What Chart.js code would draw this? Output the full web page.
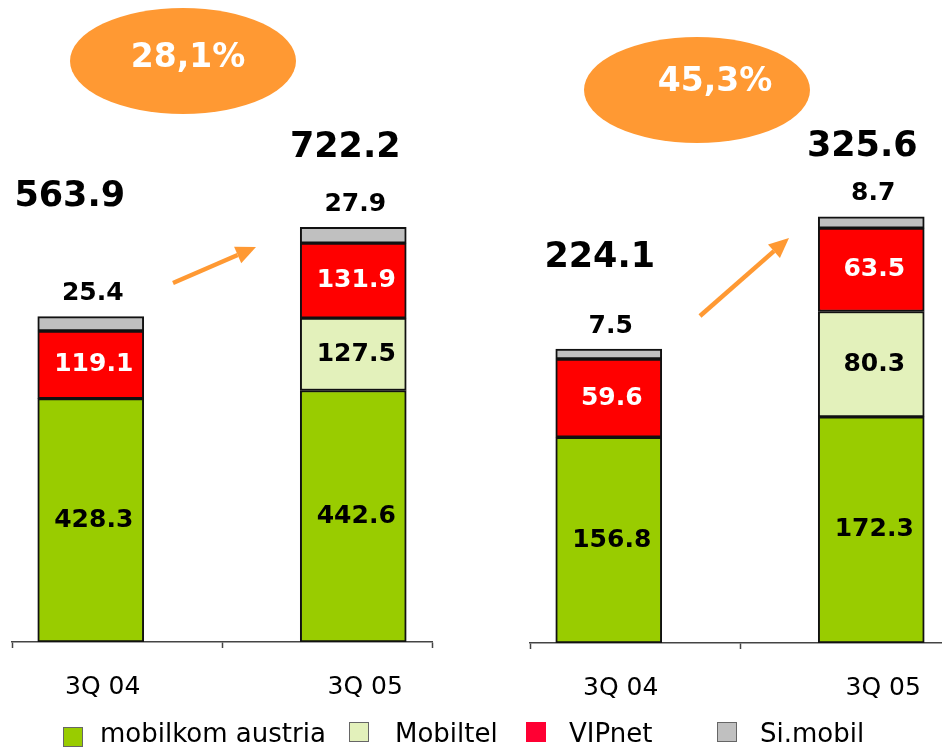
<!DOCTYPE html>
<html>
<head>
<meta charset="utf-8">
<script src="https://cdn.jsdelivr.net/npm/chart.js@4.4.1/dist/chart.umd.min.js"></script>
<style>
  html, body { margin: 0; padding: 0; background: #fff; }
  body { width: 942px; height: 750px; overflow: hidden; position: relative; font-family: "DejaVu Sans", Verdana, sans-serif; }
  canvas { position: absolute; top: 0; }
  #leftChart { left: 0; }
  #rightChart { left: 470px; }
  .legBox { position: absolute; width: 20px; height: 20px; box-sizing: border-box; }
  .legText { position: absolute; font-size: 26px; line-height: 30px; color: #000; white-space: nowrap; }
</style>
</head>
<body>
<canvas id="leftChart" width="470" height="750"></canvas>
<canvas id="rightChart" width="510" height="750"></canvas>
<div id="legend"></div>

<script>
// ---- data ----
const categories = ["3Q 04", "3Q 05"];
const seriesNames = ["mobilkom austria", "Mobiltel", "VIPnet", "Si.mobil"];
const seriesColors = ["#99CC00", "#E3F1BB", "#FF0000", "#C0C0C0"];
const legendColors = ["#99CC00", "#E3F1BB", "#FF0033", "#C0C0C0"];

// left panel
const leftMobilkom = [428.3, 442.6];
const leftMobiltel = [null, 127.5];
const leftVipnet = [119.1, 131.9];
const leftSimobil = [25.4, 27.9];
const leftTotals = ["563.9", "722.2"];
const leftGrowth = "28,1%";

// right panel
const rightMobilkom = [156.8, 172.3];
const rightMobiltel = [null, 80.3];
const rightVipnet = [59.6, 63.5];
const rightSimobil = [7.5, 8.7];
const rightTotals = ["224.1", "325.6"];
const rightGrowth = "45,3%";

// ---- layout ----
const legendBoxX = [63, 349, 526, 717];
const legendBoxY = [727, 722, 722, 722];
const legendTextX = [100, 395, 569, 760];

const BOLD = "bold 25px 'DejaVu Sans', Verdana, sans-serif";
const BIG = "bold 35px 'DejaVu Sans', Verdana, sans-serif";
const ORANGE = "#FF9933";

// labels in segments + totals + growth ellipse + arrow
const decoPlugin = {
  id: "deco",
  afterDatasetsDraw(chart, args, opts) {
    const ctx = chart.ctx;
    ctx.save();
    ctx.textAlign = "center";
    ctx.textBaseline = "middle";

    const tops = [];
    chart.data.datasets.forEach((ds, di) => {
      const meta = chart.getDatasetMeta(di);
      meta.data.forEach((el, i) => {
        const v = ds.data[i].y;
        if (v == null) return;
        tops[i] = Math.min(tops[i] ?? Infinity, el.y);
        ctx.font = BOLD;
        if (di === 3) {
          ctx.fillStyle = "#000";
          ctx.fillText(v.toFixed(1), el.x + 2, el.y - 23);
        } else {
          ctx.fillStyle = di === 2 ? "#fff" : "#000";
          ctx.fillText(v.toFixed(1), el.x + 3, (el.y + el.base) / 2);
        }
      });
    });

    // totals above each bar
    const m0 = chart.getDatasetMeta(0);
    ctx.font = BIG;
    ctx.fillStyle = "#000";
    opts.totals.forEach((t, i) => {
      const o = opts.totalOffsets[i];
      ctx.fillText(t, m0.data[i].x + o[0], tops[i] + o[1]);
    });

    // growth ellipse
    const e = opts.ellipse;
    ctx.fillStyle = ORANGE;
    ctx.beginPath();
    ctx.ellipse(e.cx, e.cy, e.rx, e.ry, 0, 0, Math.PI * 2);
    ctx.fill();
    ctx.fillStyle = "#fff";
    ctx.font = "bold 33px 'DejaVu Sans', Verdana, sans-serif";
    ctx.fillText(opts.growth, e.tx, e.ty);

    // arrow
    const a = opts.arrow;
    const ang = Math.atan2(a.y2 - a.y1, a.x2 - a.x1);
    const hl = 20, hw = 9;
    const bx = a.x2 - hl * Math.cos(ang), by = a.y2 - hl * Math.sin(ang);
    ctx.strokeStyle = ORANGE;
    ctx.lineWidth = 4.5;
    ctx.beginPath();
    ctx.moveTo(a.x1, a.y1);
    ctx.lineTo(bx, by);
    ctx.stroke();
    ctx.fillStyle = ORANGE;
    ctx.beginPath();
    ctx.moveTo(a.x2, a.y2);
    ctx.lineTo(bx + hw * Math.sin(ang), by - hw * Math.cos(ang));
    ctx.lineTo(bx - hw * Math.sin(ang), by + hw * Math.cos(ang));
    ctx.closePath();
    ctx.fill();

    ctx.restore();
  }
};

function makePanel(id, series, yMax, axisH, padL, padR, deco) {
  const datasets = series.map((vals, s) => ({
    label: seriesNames[s],
    data: vals.map((v, i) => ({ x: i, y: v })),
    backgroundColor: seriesColors[s],
    borderColor: "#111",
    borderWidth: 2,
    borderSkipped: false,
    barThickness: 106
  }));

  return new Chart(document.getElementById(id), {
    type: "bar",
    data: { datasets },
    options: {
      responsive: false,
      animation: false,
      layout: { padding: { left: padL, right: padR, top: 0, bottom: 0 } },
      plugins: {
        legend: { display: false },
        tooltip: { enabled: false },
        deco
      },
      scales: {
        x: {
          type: "linear",
          stacked: true,
          offset: false,
          min: -0.3,
          max: 1.3,
          afterBuildTicks: (scale) => {
            scale.ticks = [-0.3, 0, 0.5, 1, 1.3].map(v => ({ value: v }));
          },
          afterFit: (scale) => {
            scale.height = axisH;
            scale.paddingLeft = 0;
            scale.paddingRight = 0;
          },
          ticks: {
            autoSkip: false,
            maxRotation: 0,
            padding: 24,
            labelOffset: 12,
            color: "#000",
            font: { family: "'DejaVu Sans', Verdana, sans-serif", size: 25 },
            callback: (v) => Number.isInteger(v) ? categories[v] : ""
          },
          grid: {
            offset: false,
            drawOnChartArea: false,
            tickLength: 6,
            tickWidth: 1.5,
            tickColor: (c) => Number.isInteger(c.tick && c.tick.value) ? "rgba(0,0,0,0)" : "#444"
          },
          border: { color: "#444", width: 1.5 }
        },
        y: {
          display: false,
          stacked: true,
          min: 0,
          max: yMax
        }
      }
    },
    plugins: [decoPlugin]
  });
}

makePanel("leftChart",
  [leftMobilkom, leftMobiltel, leftVipnet, leftSimobil],
  1130, 108, 12, 38,
  {
    totals: leftTotals,
    totalOffsets: [[-21, -120], [-8, -79]],
    growth: leftGrowth,
    ellipse: { cx: 183, cy: 61, rx: 113, ry: 53, tx: 188, ty: 58 },
    arrow: { x1: 173, y1: 283, x2: 256, y2: 247 }
  });

makePanel("rightChart",
  [rightMobilkom, rightMobiltel, rightVipnet, rightSimobil],
  490, 107, 60, 30,
  {
    totals: rightTotals,
    totalOffsets: [[-9, -91], [-9, -70]],
    growth: rightGrowth,
    ellipse: { cx: 227, cy: 90, rx: 113, ry: 53, tx: 245, ty: 82 },
    arrow: { x1: 230, y1: 316, x2: 319, y2: 238 }
  });

// legend
const legend = document.getElementById("legend");
seriesNames.forEach((name, i) => {
  const box = document.createElement("div");
  box.className = "legBox";
  box.style.left = legendBoxX[i] + "px";
  box.style.top = legendBoxY[i] + "px";
  box.style.background = legendColors[i];
  if (i !== 2) box.style.border = "1.5px solid #666";
  legend.appendChild(box);
  const t = document.createElement("div");
  t.className = "legText";
  t.style.left = legendTextX[i] + "px";
  t.style.top = "718px";
  t.textContent = name;
  legend.appendChild(t);
});
</script>
</body>
</html>
